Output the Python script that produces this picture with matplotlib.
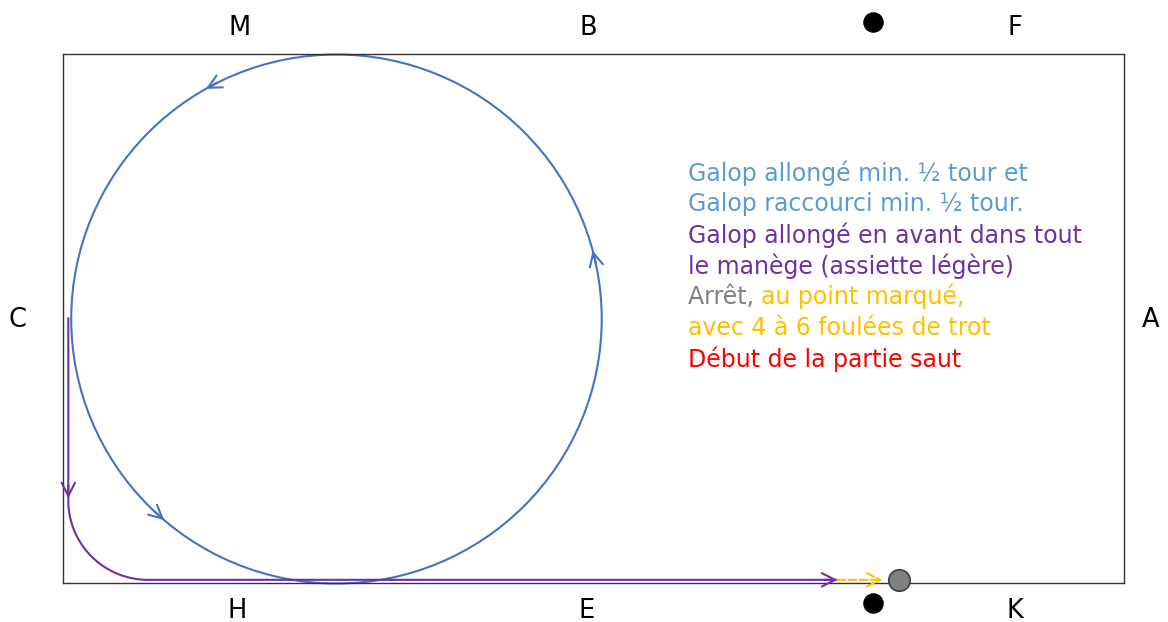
import numpy as np
import matplotlib.pyplot as plt
from matplotlib.patches import Circle

# arena 40 x 20 m
arena_w, arena_h = 40, 20

letters = ['M', 'B', 'F', 'H', 'E', 'K', 'C', 'A']
letter_x = [6.67, 19.8, 35.9, 6.56, 19.75, 35.9, -1.73, 41.0]
letter_y = [21.0, 21.0, 21.0, -1.05, -1.05, -1.05, 9.95, 9.95]

# markers (black dots) and halt point
dot_x = [30.55, 30.55]
dot_y = [21.2, -0.75]
halt_x, halt_y = 31.5, 0.1

# circle
circ_cx, circ_cy, circ_r = 10.31, 9.98, 10.0
circ_arrow_deg = [119.5, 229.5, 15.0]

# purple track: down the C side, corner, then along H-E
track_x0, track_ytop, track_y = 0.2, 10.0, 0.12
corner_r = 3.0
track_arrow_y = 3.2
track_end = 29.2
trot_end = 30.9

lines = [
    [('Galop allongé min. ½ tour et', '#5B9BD5')],
    [('Galop raccourci min. ½ tour.', '#5B9BD5')],
    [('Galop allongé en avant dans tout', '#7030A0')],
    [('le manège (assiette légère)', '#7030A0')],
    [('Arrêt, ', '#808080'), ('au point marqué,', '#FFC000')],
    [('avec 4 à 6 foulées de trot', '#FFC000')],
    [('Début de la partie saut', '#FF0000')],
]
text_x, text_y0, text_dy = 23.56, 15.5, 1.175

blue = '#4472C4'
purple = '#7030A0'
yellow = '#FFC000'

fig = plt.figure(figsize=(11.68, 6.22), dpi=100)
ax = fig.add_axes([63/1168, 39/622, 1061/1168, 529/622])
ax.set_xlim(0, arena_w)
ax.set_ylim(0, arena_h)
ax.set_xticks([])
ax.set_yticks([])
for s in ax.spines.values():
    s.set_color('#333333')
    s.set_linewidth(1.0)

# circle
ax.add_patch(Circle((circ_cx, circ_cy), circ_r, fill=False, ec=blue, lw=1.5, clip_on=False))
arrow_kw = dict(lw=1.5, mutation_scale=24, shrinkA=0, shrinkB=0)
for a in circ_arrow_deg:
    a1 = np.radians(a)
    a0 = a1 - 0.05
    ax.annotate('', xy=(circ_cx + circ_r*np.cos(a1), circ_cy + circ_r*np.sin(a1)),
                xytext=(circ_cx + circ_r*np.cos(a0), circ_cy + circ_r*np.sin(a0)),
                arrowprops=dict(arrowstyle='->', color=blue, **arrow_kw), annotation_clip=False)

# purple track
ang = np.linspace(np.pi, 1.5*np.pi, 60)
cx, cy = track_x0 + corner_r, track_y + corner_r
px = np.concatenate([[track_x0], cx + corner_r*np.cos(ang), [track_end]])
py = np.concatenate([[track_ytop], cy + corner_r*np.sin(ang), [track_y]])
ax.plot(px, py, color=purple, lw=1.5, clip_on=False)
ax.annotate('', xy=(track_x0, track_arrow_y), xytext=(track_x0, track_arrow_y + 0.5),
            arrowprops=dict(arrowstyle='->', color=purple, **arrow_kw))
ax.annotate('', xy=(track_end, track_y), xytext=(track_end - 0.5, track_y),
            arrowprops=dict(arrowstyle='->', color=purple, **arrow_kw))
# trot (dashed yellow)
ax.annotate('', xy=(trot_end, track_y), xytext=(track_end, track_y),
            arrowprops=dict(arrowstyle='->', color=yellow, ls='--', **arrow_kw))

# halt point and markers
ax.scatter([halt_x], [halt_y], s=240, color='#808080', edgecolor='#404040', lw=1.2, zorder=5, clip_on=False)
ax.scatter(dot_x, dot_y, s=190, color='black', zorder=5, clip_on=False)

for l, x, y in zip(letters, letter_x, letter_y):
    ax.text(x, y, l, fontsize=18.5, ha='center', va='center', clip_on=False)

for i, parts in enumerate(lines):
    y = text_y0 - i*text_dy
    prev = None
    for s, c in parts:
        if prev is None:
            prev = ax.text(text_x, y, s, color=c, fontsize=17, va='center', ha='left')
        else:
            prev = ax.annotate(s, xy=(1, 0), xycoords=prev, va='bottom', ha='left',
                               color=c, fontsize=17)

fig.savefig('out.png', dpi=100)
